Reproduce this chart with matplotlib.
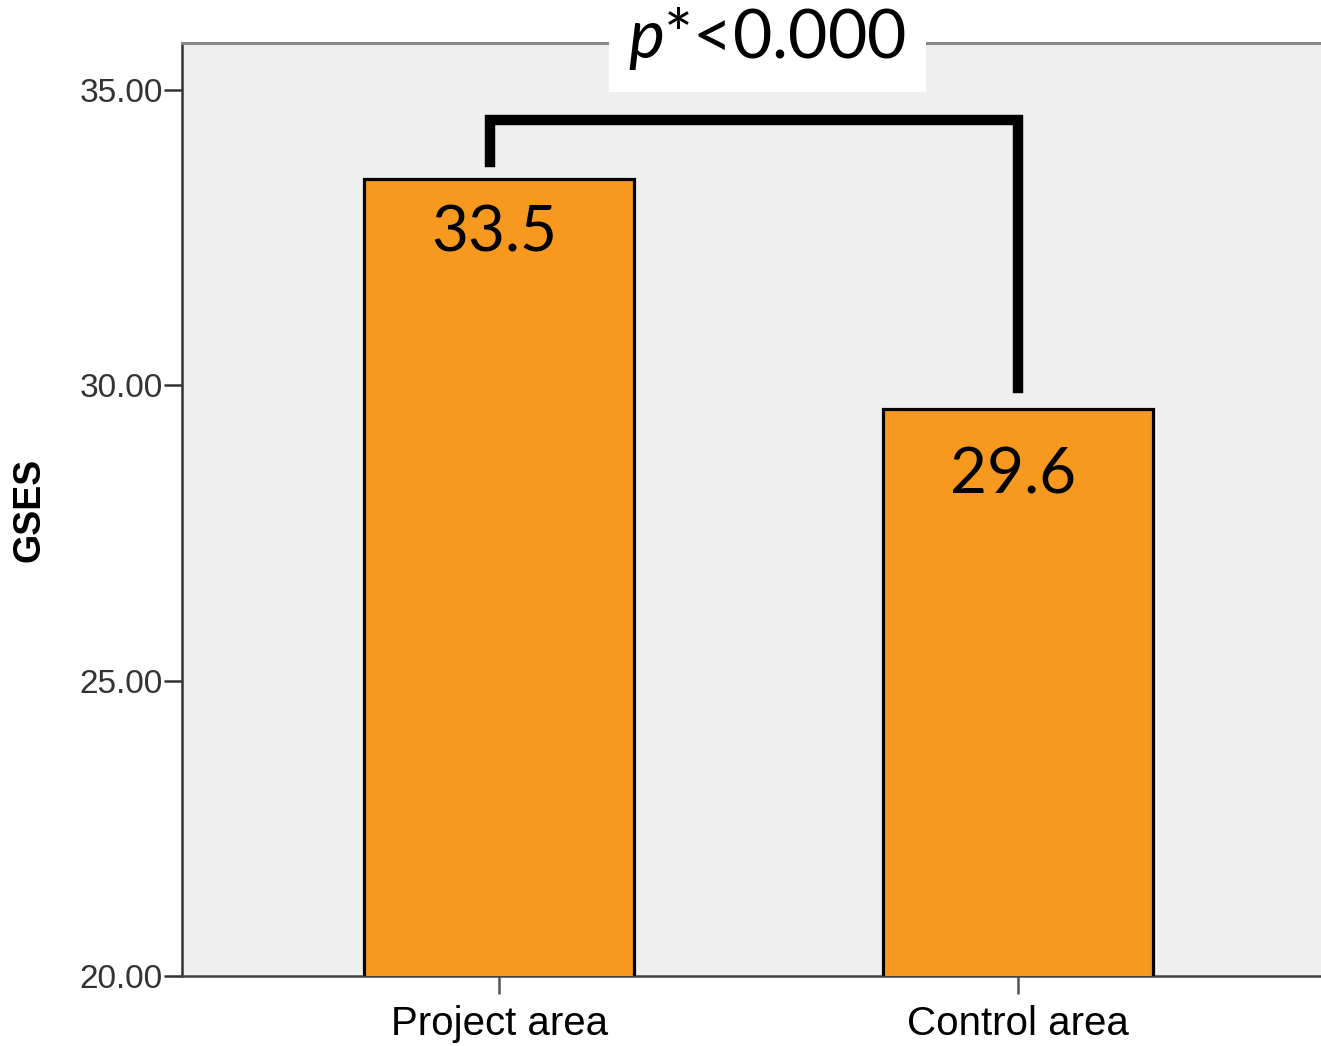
import numpy as np
import matplotlib
matplotlib.use("Agg")
import matplotlib.pyplot as plt

# data
groups = ["Project area", "Control area"]
gses = [33.5, 29.6]
value_labels = ["33.5", "29.6"]
yticks = [20.0, 25.0, 30.0, 35.0]
p_text = r"$p$*<0.000"

bar_color = "#F7981F"
bg_color = "#EFEFEF"

plt.rcParams["mathtext.fontset"] = "custom"
plt.rcParams["mathtext.it"] = "Lato:italic"
plt.rcParams["mathtext.rm"] = "Lato"

fig = plt.figure(figsize=(13.21, 10.46), dpi=100)
ax = fig.add_axes([0.1378, 0.0669, 0.8622, 0.8920])
ax.set_facecolor(bg_color)

x = np.arange(len(groups))
ax.bar(x, gses, width=0.52, color=bar_color, edgecolor="black", linewidth=2.3,
       zorder=3)

ax.set_xlim(-0.611, 1.584)
ax.set_ylim(20, 35.8)

ax.set_yticks(yticks)
ax.set_yticklabels(["%.2f" % t for t in yticks], fontsize=24, color="#333333",
                   family="Liberation Sans")
ax.set_xticks(x)
ax.set_xticklabels(groups, fontsize=29, color="black", family="Liberation Sans")
ax.tick_params(axis="y", length=13, width=1.8, color="#333333", pad=1)
ax.tick_params(axis="x", length=13, width=1.8, color="#555555", pad=8)

ax.set_ylabel("GSES", fontsize=27, fontweight="bold", family="Liberation Sans")
ax.yaxis.set_label_coords(-0.118, 0.5)

ax.spines["right"].set_visible(False)
ax.spines["top"].set_color("#888888")
ax.spines["top"].set_linewidth(2.2)
ax.spines["left"].set_color("#333333")
ax.spines["left"].set_linewidth(1.8)
ax.spines["bottom"].set_color("#444444")
ax.spines["bottom"].set_linewidth(1.8)

# value labels inside the bars
for xi, v, lab, off in zip(x, gses, value_labels, [0.92, 1.12]):
    ax.text(xi - 0.01, v - off, lab, ha="center", va="center", fontsize=46,
            family="Lato", color="black", zorder=4)

# significance bracket
bracket_y = 34.5
ax.plot([x[0] - 0.017, x[0] - 0.017, x[1], x[1]],
        [gses[0] + 0.28, bracket_y, bracket_y, gses[1] + 0.35],
        color="black", linewidth=7.5, solid_joinstyle="miter", zorder=5,
        clip_on=False)

ax.text(0.514, 1.005, p_text, transform=ax.transAxes, ha="center", va="center",
        fontsize=49, family="Lato", color="black", zorder=6,
        bbox=dict(facecolor="white", edgecolor="none", pad=14), clip_on=False)

fig.savefig("out.png", dpi=100)
